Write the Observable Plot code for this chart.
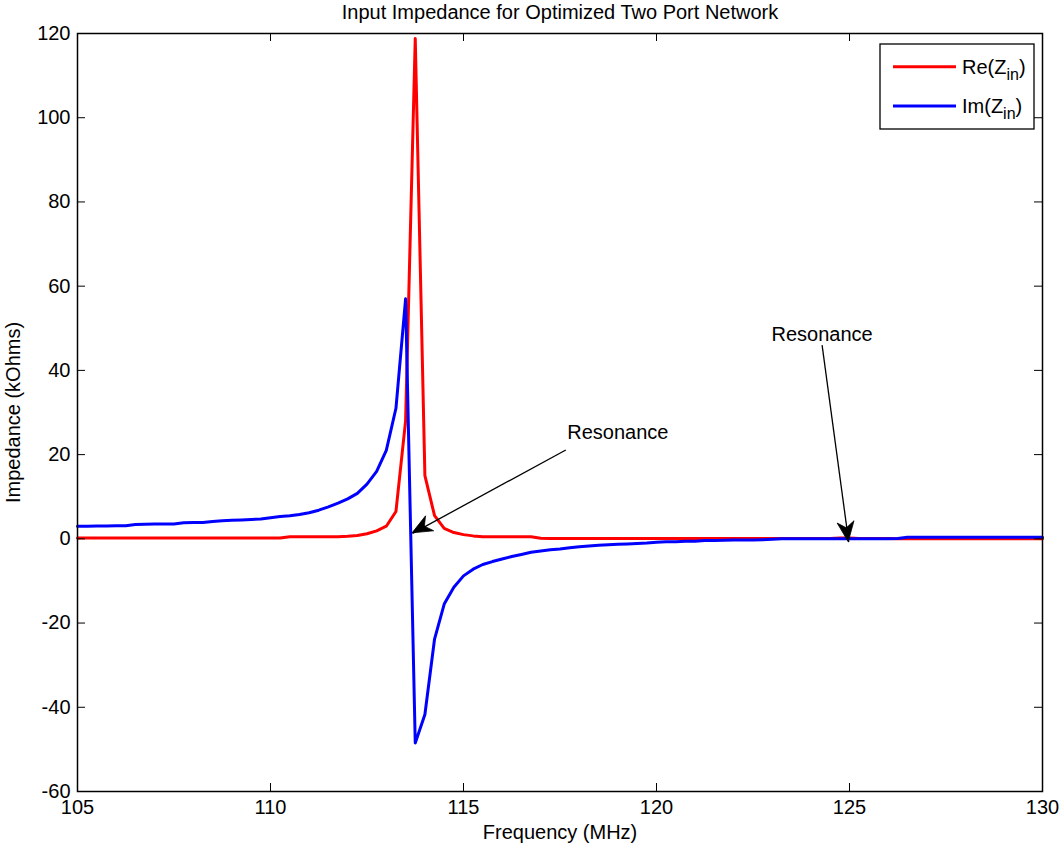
<!DOCTYPE html>
<html>
<head>
<meta charset="utf-8">
<script src="https://cdn.jsdelivr.net/npm/d3@7"></script>
<script src="https://cdn.jsdelivr.net/npm/@observablehq/plot@0.6"></script>
<style>
  body { margin: 0; background: #fff; }
  #chart { width: 1059px; height: 848px; }
  svg { font-family: "Liberation Sans", Arial, Helvetica, sans-serif; }
</style>
</head>
<body>
<div id="chart"></div>
<script>
// Input impedance of the optimized two-port network, 105–130 MHz
const title = "Input Impedance for Optimized Two Port Network";
const xLabel = "Frequency (MHz)";
const yLabel = "Impedance (kOhms)";

const freq = [
  105, 105.25, 105.5, 105.75, 106, 106.25, 106.5, 106.75, 107, 107.25,
  107.5, 107.75, 108, 108.25, 108.5, 108.75, 109, 109.25, 109.5, 109.75,
  110, 110.25, 110.5, 110.75, 111, 111.25, 111.5, 111.75, 112, 112.25,
  112.5, 112.75, 113, 113.25, 113.5, 113.75, 114, 114.25, 114.5, 114.75,
  115, 115.25, 115.5, 115.75, 116, 116.25, 116.5, 116.75, 117, 117.25,
  117.5, 117.75, 118, 118.25, 118.5, 118.75, 119, 119.25, 119.5, 119.75,
  120, 120.25, 120.5, 120.75, 121, 121.25, 121.5, 121.75, 122, 122.25,
  122.5, 122.75, 123, 123.25, 123.5, 123.75, 124, 124.25, 124.5, 124.75,
  125, 125.25, 125.5, 125.75, 126, 126.25, 126.5, 126.75, 127, 127.25,
  127.5, 127.75, 128, 128.25, 128.5, 128.75, 129, 129.25, 129.5, 129.75,
  130
];

// Re(Zin), kOhms
const reZin = [
  0.2, 0.2, 0.2, 0.2, 0.2, 0.2, 0.2, 0.2, 0.2, 0.2,
  0.2, 0.2, 0.2, 0.2, 0.2, 0.2, 0.2, 0.2, 0.2, 0.2,
  0.2, 0.2, 0.5, 0.5, 0.5, 0.5, 0.5, 0.5, 0.6, 0.8,
  1.2, 1.9, 3.0, 6.5, 28, 118.8, 15, 5.5, 2.5, 1.5,
  1.0, 0.7, 0.5, 0.5, 0.5, 0.5, 0.5, 0.5, 0.15, 0.1,
  0.1, 0.1, 0.1, 0.1, 0.1, 0.1, 0.1, 0.1, 0.1, 0.1,
  0.1, 0.1, 0.1, 0.1, 0.1, 0.1, 0.1, 0.1, 0.1, 0.1,
  0.1, 0.1, 0.1, 0.1, 0.1, 0.1, 0.1, 0.1, 0.1, 0.2,
  0.2, 0.1, 0.1, 0.1, 0.1, 0, 0, 0, 0, 0,
  0, 0, 0, 0, 0, 0, 0, 0, 0, 0,
  0
];

// Im(Zin), kOhms
const imZin = [
  3.0, 3.0, 3.05, 3.05, 3.1, 3.1, 3.4, 3.45, 3.5, 3.5,
  3.55, 3.8, 3.85, 3.9, 4.1, 4.3, 4.4, 4.5, 4.6, 4.7,
  5.0, 5.3, 5.5, 5.8, 6.2, 6.8, 7.6, 8.5, 9.5, 10.8,
  13.0, 16.0, 21.0, 31.0, 57.0, -48.5, -41.7, -23.8, -15.5, -11.5,
  -8.8, -7.2, -6.1, -5.4, -4.8, -4.2, -3.7, -3.2, -2.9, -2.6,
  -2.4, -2.1, -1.9, -1.7, -1.5, -1.4, -1.3, -1.2, -1.1, -1.0,
  -0.8, -0.7, -0.7, -0.6, -0.6, -0.4, -0.4, -0.35, -0.3, -0.3,
  -0.25, -0.2, -0.1, 0, 0, 0, 0, 0, 0, 0,
  0, 0, 0, 0, 0, 0.1, 0.4, 0.4, 0.4, 0.4,
  0.4, 0.4, 0.4, 0.4, 0.4, 0.4, 0.4, 0.4, 0.4, 0.4,
  0.4
];

const xTicks = [105, 110, 115, 120, 125, 130];
const yTicks = [-60, -40, -20, 0, 20, 40, 60, 80, 100, 120];

// Resonance annotations: label position, arrow tail and arrow tip (data units)
const noteText = ["Resonance", "Resonance"];
const noteLabelX = [119.0, 124.29];
const noteLabelY = [25.2, 48.6];
const noteTailX = [117.65, 124.29];
const noteTailY = [21.1, 46.0];
const noteTipX = [113.68, 124.98];
const noteTipY = [1.3, -0.8];

const seriesNames = ["Re", "Im"];
const seriesColors = ["#ff0000", "#0000ff"];

const W = 1059, H = 848;
const M = {top: 33, right: 17, bottom: 57, left: 77};
const frameW = W - M.left - M.right;
const frameH = H - M.top - M.bottom;
const tickLen = 8;

const rows = freq.map((f, i) => ({f, re: reZin[i], im: imZin[i]}));
const notes = noteText.map((t, i) => ({
  t, lx: noteLabelX[i], ly: noteLabelY[i],
  x1: noteTailX[i], y1: noteTailY[i], x2: noteTipX[i], y2: noteTipY[i]
}));

const plot = Plot.plot({
  width: W,
  height: H,
  marginTop: M.top,
  marginRight: M.right,
  marginBottom: M.bottom,
  marginLeft: M.left,
  style: {fontFamily: '"Liberation Sans", Arial, sans-serif', fontSize: "20px", color: "#000", background: "#fff"},
  x: {domain: [105, 130]},
  y: {domain: [-60, 120]},
  marks: [
    Plot.line(rows, {x: "f", y: "re", stroke: seriesColors[0], strokeWidth: 3}),
    Plot.line(rows, {x: "f", y: "im", stroke: seriesColors[1], strokeWidth: 3}),
    Plot.link(notes, {x1: "x1", y1: "y1", x2: "x2", y2: "y2", stroke: "#000", strokeWidth: 1.3}),
    Plot.text(notes, {x: "lx", y: "ly", text: "t", fontSize: 20, fill: "#000"}),
    // inward tick marks on all four sides of the box
    Plot.tickX(xTicks, {x: d => d, insetTop: frameH - tickLen, stroke: "#000"}),
    Plot.tickX(xTicks, {x: d => d, insetBottom: frameH - tickLen, stroke: "#000"}),
    Plot.tickY(yTicks, {y: d => d, insetRight: frameW - tickLen, stroke: "#000"}),
    Plot.tickY(yTicks, {y: d => d, insetLeft: frameW - tickLen, stroke: "#000"}),
    Plot.axisX(xTicks, {tickSize: 0, tickPadding: 8, label: null, fontSize: 20, tickFormat: d => String(d)}),
    Plot.axisY(yTicks, {tickSize: 0, tickPadding: 7, label: null, fontSize: 20, tickFormat: d => String(d)}),
    Plot.frame({stroke: "#000", strokeWidth: 1.5}),
    Plot.text([xLabel], {frameAnchor: "bottom", lineAnchor: "middle", dy: 41, fontSize: 20, fill: "#000"}),
    Plot.text([yLabel], {frameAnchor: "left", textAnchor: "middle", lineAnchor: "middle", rotate: -90, dx: -64, fontSize: 20, fill: "#000"}),
    Plot.text([title], {frameAnchor: "top", lineAnchor: "middle", dy: -21, fontSize: 20, fill: "#000"})
  ]
});

document.getElementById("chart").appendChild(plot);

// Filled, notched arrowheads at the tip of each annotation arrow
const sx = plot.scale("x"), sy = plot.scale("y");
const svg = d3.select(plot);
const headLen = 20, headHalf = 8.5, notch = 14;
notes.forEach(n => {
  const tx = sx.apply(n.x2), ty = sy.apply(n.y2);
  const ax = sx.apply(n.x1), ay = sy.apply(n.y1);
  const len = Math.hypot(ax - tx, ay - ty);
  const ux = (ax - tx) / len, uy = (ay - ty) / len;  // pointing back to tail
  const px = -uy, py = ux;
  const p = [
    [tx, ty],
    [tx + ux * headLen + px * headHalf, ty + uy * headLen + py * headHalf],
    [tx + ux * notch, ty + uy * notch],
    [tx + ux * headLen - px * headHalf, ty + uy * headLen - py * headHalf]
  ];
  svg.append("path")
    .attr("d", "M" + p.map(q => q.join(",")).join("L") + "Z")
    .attr("fill", "#000")
    .attr("stroke", "#000")
    .attr("stroke-width", 0.8);
});

// Legend box in the upper-right corner of the axes
const lgRight = M.left + frameW - 8;
const lgW = 154, lgH = 85, lgTop = M.top + 11;
const lgLeft = lgRight - lgW;
const legend = svg.append("g").attr("text-anchor", "start");
legend.append("rect")
  .attr("x", lgLeft).attr("y", lgTop)
  .attr("width", lgW).attr("height", lgH)
  .attr("fill", "#fff").attr("stroke", "#000").attr("stroke-width", 1.3);
seriesNames.forEach((name, i) => {
  const cy = lgTop + 22.7 + i * 39.3;
  legend.append("line")
    .attr("x1", lgLeft + 13).attr("x2", lgLeft + 76)
    .attr("y1", cy).attr("y2", cy)
    .attr("stroke", seriesColors[i]).attr("stroke-width", 3);
  const t = legend.append("text")
    .attr("x", lgLeft + 82).attr("y", cy + 7)
    .attr("text-anchor", "start")
    .attr("font-size", 20).attr("fill", "#000");
  t.append("tspan").text(name + "(Z");
  t.append("tspan").attr("font-size", 16).attr("dy", 6).text("in");
  t.append("tspan").attr("dy", -6).text(")");
});
</script>
</body>
</html>
